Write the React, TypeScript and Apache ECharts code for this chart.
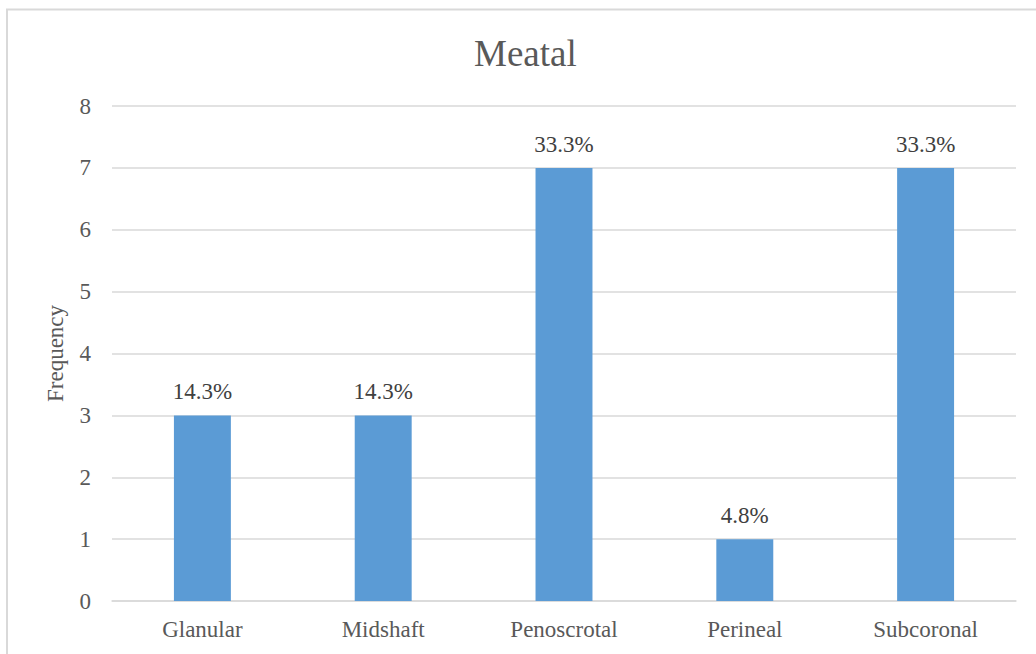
import React, { useEffect, useRef } from "react";
import * as echarts from "echarts";

const categories = ["Glanular", "Midshaft", "Penoscrotal", "Perineal", "Subcoronal"];
const frequency = [3, 3, 7, 1, 7];
const percentLabels = ["14.3%", "14.3%", "33.3%", "4.8%", "33.3%"];
const yTicks = { min: 0, max: 8, interval: 1 };

export default function App() {
  const ref = useRef<HTMLDivElement>(null);
  useEffect(() => {
    const chart = echarts.init(ref.current!, null, { renderer: "svg" });
    const font = "Liberation Serif";
    chart.setOption({
      animation: false,
      textStyle: { fontFamily: font },
      title: {
        text: "Meatal",
        left: 469,
        top: 30,
        textStyle: { fontFamily: font, fontSize: 37, fontWeight: "normal", color: "#595959" },
      },
      graphic: [
        {
          type: "rect",
          shape: { x: 7, y: 9.5, width: 1100, height: 700 },
          style: { fill: "none", stroke: "#d9d9d9", lineWidth: 2 },
          silent: true,
        },
      ],
      grid: { left: 112, right: 20, top: 106, bottom: 53, containLabel: false },
      xAxis: {
        type: "category",
        data: categories,
        axisLine: { show: true, lineStyle: { color: "#d9d9d9", width: 1.5 } },
        axisTick: { show: false },
        axisLabel: { color: "#595959", fontSize: 23, fontFamily: font, margin: 17 },
      },
      yAxis: {
        type: "value",
        min: yTicks.min,
        max: yTicks.max,
        interval: yTicks.interval,
        name: "Frequency",
        nameLocation: "middle",
        nameGap: 45,
        nameTextStyle: { color: "#595959", fontSize: 23, fontFamily: font },
        axisLine: { show: false },
        axisTick: { show: false },
        axisLabel: { color: "#595959", fontSize: 23, fontFamily: font, margin: 21 },
        splitLine: { lineStyle: { color: "#d9d9d9", width: 1.5 } },
      },
      series: [
        {
          type: "bar",
          data: frequency,
          barWidth: "31.5%",
          itemStyle: { color: "#5b9bd5" },
          label: {
            show: true,
            position: "top",
            distance: 12,
            color: "#404040",
            fontSize: 23,
            fontFamily: font,
            formatter: (p: any) => percentLabels[p.dataIndex],
          },
        },
      ],
    });
    return () => chart.dispose();
  }, []);
  return (
    <div
      ref={ref}
      style={{ position: "absolute", left: 0, top: 0, width: 1036, height: 654, background: "#fff" }}
    />
  );
}
